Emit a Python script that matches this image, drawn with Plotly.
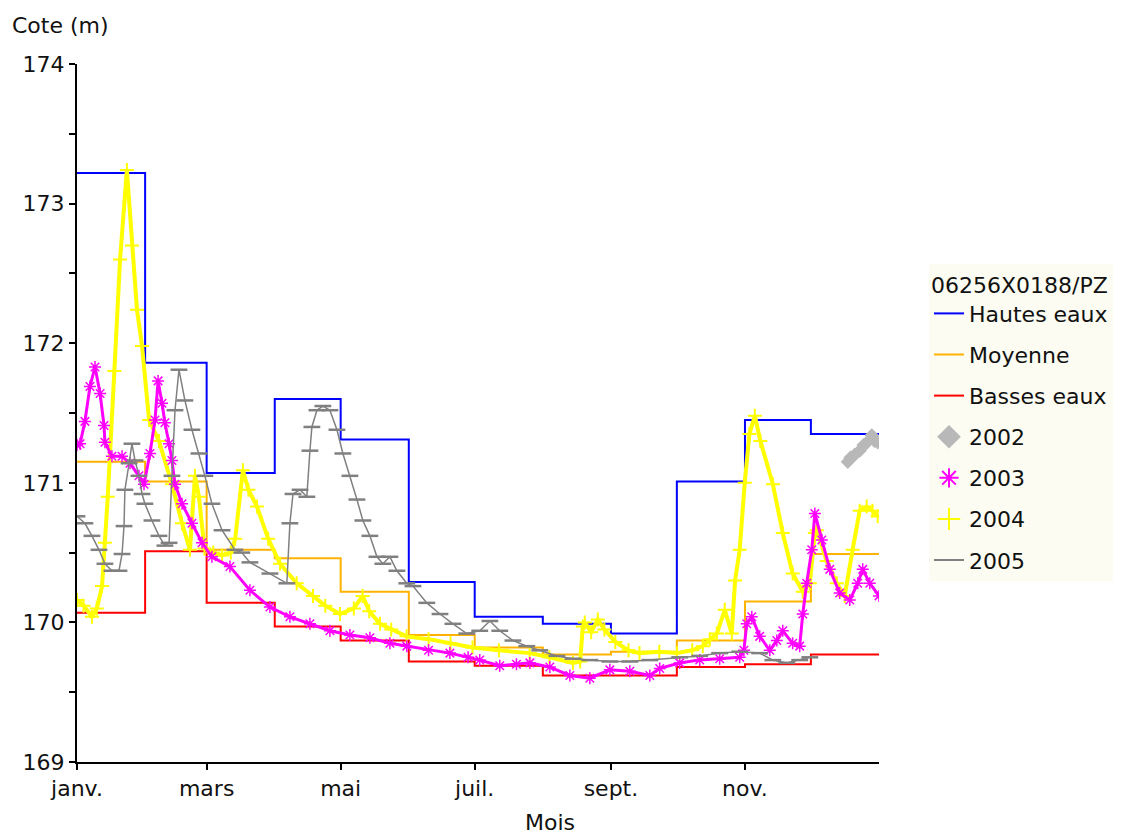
import plotly.graph_objects as go

# ---------------- data ----------------
MONTH_START_DAYS = [0, 31, 59, 90, 120, 151, 181, 212, 243, 273, 304, 334]
YEAR_END_DAY = 365
TICK_DAYS = [0, 59, 120, 181, 243, 304]
TICK_LABELS = ["janv.", "mars", "mai", "juil.", "sept.", "nov."]

HAUTES_EAUX = [173.22, 171.86, 171.07, 171.60, 171.31, 170.29, 170.04, 169.99, 169.92, 171.01, 171.45, 171.35]
MOYENNE = [171.15, 171.01, 170.52, 170.46, 170.22, 169.91, 169.82, 169.77, 169.79, 169.87, 170.15, 170.49]
BASSES_EAUX = [170.07, 170.51, 170.14, 169.97, 169.87, 169.72, 169.69, 169.62, 169.62, 169.68, 169.70, 169.77]

Y2002_DAYS = [350.8, 352.0, 353.9, 356.2, 358.0, 359.0, 361.7, 363.0, 364.4]
Y2002_VALUES = [171.15, 171.18, 171.20, 171.23, 171.27, 171.28, 171.34, 171.30, 171.29]

Y2003_DAYS = [0, 1.4, 3.6, 5.9, 8.2, 10.5, 12.3, 12.7, 15.9, 20.5, 24.1, 28.2, 30.5, 33.2, 35.5,
              36.9, 38.7, 40, 41.9, 43.2, 44.6, 47.8, 52.3, 56.9, 61.4, 69.6, 78.7, 87.8, 96.9,
              106, 115.1, 124.2, 133.3, 142.4, 150.1, 160, 169.7, 178, 183.3, 192.4, 200, 206.1,
              215.2, 224.3, 233.4, 242.5, 251.6, 260.7, 265.2, 274.3, 283.4, 292.5, 301.6, 303.5,
              304.8, 307.1, 310.7, 315.3, 318.5, 321.2, 325.7, 328.9, 330.3, 332.1, 334.4, 335.8,
              339, 342.6, 347.1, 351.7, 355.3, 357.6, 360.8, 365]
Y2003_VALUES = [171.27, 171.28, 171.44, 171.69, 171.83, 171.64, 171.41, 171.29, 171.19, 171.19,
                171.14, 171.05, 170.99, 171.21, 171.45, 171.73, 171.57, 171.43, 171.28, 171.16,
                170.99, 170.85, 170.71, 170.57, 170.47, 170.40, 170.23, 170.11, 170.04, 169.99,
                169.94, 169.91, 169.89, 169.85, 169.83, 169.80, 169.78, 169.75, 169.73, 169.69,
                169.70, 169.71, 169.68, 169.62, 169.60, 169.66, 169.65, 169.62, 169.67, 169.71,
                169.73, 169.74, 169.75, 169.80, 169.99, 170.04, 169.90, 169.80, 169.87, 169.94,
                169.85, 169.83, 170.06, 170.28, 170.52, 170.78, 170.59, 170.38, 170.21, 170.16,
                170.28, 170.38, 170.28, 170.19]

Y2004_DAYS = [0, 3, 6.8, 9, 11.4, 12.7, 14, 17, 19.6, 22.7, 25, 27.3, 29.6, 32.8, 37.3, 43.2,
              47.8, 51.4, 53.7, 55.5, 58, 62, 66, 70, 72, 75.5, 78, 81.9, 87, 92.4, 100, 107.4,
              113, 119.7, 126, 130, 133, 137.9, 143, 150, 160, 170, 180, 192, 206, 215, 225.7,
              229, 230.2, 231.1, 234, 237, 240, 245, 251, 256, 265, 273, 280, 284.8, 288, 291.2,
              294.8, 298, 299.5, 301.6, 303.9, 306, 308.5, 311, 316.7, 321.2, 325.7, 330.3,
              333.5, 335.8, 336.7, 341.2, 345.8, 349.4, 353, 356.2, 359.4, 362, 364.4]
Y2004_VALUES = [170.16, 170.12, 170.04, 170.10, 170.26, 170.57, 170.90, 171.80, 172.60, 173.24,
                172.70, 172.24, 171.98, 171.45, 171.30, 170.99, 170.71, 170.52, 171.05, 170.90,
                170.53, 170.50, 170.48, 170.50, 170.60, 171.09, 170.95, 170.83, 170.60, 170.42,
                170.28, 170.19, 170.12, 170.06, 170.10, 170.19, 170.08, 169.99, 169.95, 169.90,
                169.88, 169.85, 169.82, 169.80, 169.78, 169.75, 169.71, 169.72, 169.97, 170.00,
                169.93, 170.02, 169.95, 169.86, 169.80, 169.78, 169.79, 169.78, 169.80, 169.83,
                169.88, 169.92, 170.09, 169.92, 170.30, 170.52, 171.00, 171.35, 171.48, 171.30,
                170.99, 170.64, 170.35, 170.22, 170.28, 170.64, 170.66, 170.44, 170.28, 170.19,
                170.52, 170.80, 170.83, 170.80, 170.76]

Y2005_DAYS = [0, 3.6, 6.8, 10, 12.7, 15.9, 19.1, 20.5, 21.4, 21.8, 23.7, 25, 26.4, 28.2, 29.6,
              30.9, 34.1, 37.3, 40, 41.9, 43.2, 44.6, 46.4, 49.1, 52.3, 55.5, 58.2, 61.4, 66,
              71.9, 75, 78.7, 87.8, 95.5, 96.9, 98.3, 101.5, 104.6, 106, 106.9, 109.2, 111.9,
              115.1, 118.3, 121, 124.2, 127.4, 130.1, 133.3, 136.5, 139.2, 142.4, 145.6, 150.1,
              152.9, 159.2, 165.2, 171.1, 177.4, 183.3, 187.9, 192.4, 198.4, 204.7, 210.6, 218.4,
              225.7, 233.4, 242.5, 251.6, 260.7, 274.3, 283.4, 292.5, 301.6, 310.7, 316.7, 323,
              328.9, 333.5]
Y2005_VALUES = [170.76, 170.71, 170.62, 170.52, 170.42, 170.37, 170.37, 170.49, 170.69, 170.95,
                171.14, 171.28, 171.16, 171.05, 170.92, 170.85, 170.73, 170.62, 170.55, 170.57,
                171.05, 171.52, 171.81, 171.59, 171.38, 171.21, 171.05, 170.85, 170.66, 170.52,
                170.50, 170.43, 170.35, 170.28, 170.71, 170.92, 170.95, 170.90, 171.23, 171.40,
                171.52, 171.55, 171.52, 171.38, 171.21, 171.05, 170.88, 170.73, 170.62, 170.47,
                170.42, 170.47, 170.37, 170.28, 170.26, 170.14, 170.06, 169.99, 169.92, 169.94,
                170.01, 169.94, 169.87, 169.83, 169.80, 169.76, 169.74, 169.73, 169.72, 169.72,
                169.73, 169.75, 169.76, 169.78, 169.79, 169.78, 169.73, 169.71, 169.73, 169.75]

LEGEND_TITLE = "06256X0188/PZ"
FONT = "DejaVu Sans"
TEXT_COLOR = "#111111"

# page has an 8px body margin: figure is sized/placed to compensate
W, H = 1122, 830
ML, MT, MR, MB = 69, 56, 251, 76
PW, PH = W - ML - MR, H - MT - MB

# ---------------- figure ----------------
fig = go.Figure()

step_x = MONTH_START_DAYS + [YEAR_END_DAY]
for name, vals, color, rank in [("Hautes eaux", HAUTES_EAUX, "#0000FF", 1),
                                ("Moyenne", MOYENNE, "#FFB300", 2),
                                ("Basses eaux", BASSES_EAUX, "#FF0000", 3)]:
    fig.add_trace(go.Scatter(x=step_x, y=vals + [vals[-1]], mode="lines", name=name,
                             line=dict(color=color, width=2, shape="hv"),
                             legendgroup=name, legendrank=rank, hoverinfo="skip"))

# yearly series (legend shown by marker-only entries)
fig.add_trace(go.Scatter(x=Y2002_DAYS, y=Y2002_VALUES, mode="lines+markers", showlegend=False,
                         line=dict(color="#B8B8B8", width=5),
                         marker=dict(symbol="diamond", size=11, color="#B8B8B8")))
fig.add_trace(go.Scatter(x=Y2004_DAYS, y=Y2004_VALUES, mode="lines+markers", showlegend=False,
                         line=dict(color="#FFFF00", width=4),
                         marker=dict(symbol="cross-thin-open", size=10,
                                     line=dict(color="#FFFF00", width=2))))
fig.add_trace(go.Scatter(x=Y2003_DAYS, y=Y2003_VALUES, mode="lines+markers", showlegend=False,
                         line=dict(color="#FF00FF", width=3),
                         marker=dict(symbol="asterisk-open", size=10,
                                     line=dict(color="#FF00FF", width=1.5))))
fig.add_trace(go.Scatter(x=Y2005_DAYS, y=Y2005_VALUES, mode="lines+markers", showlegend=False,
                         line=dict(color="#808080", width=1.5),
                         marker=dict(symbol="line-ew-open", size=12,
                                     line=dict(color="#808080", width=2.5))))

# legend entries for the yearly series
for name, sym, color, rank in [("2002", "diamond", "#B8B8B8", 4),
                               ("2003", "asterisk-open", "#FF00FF", 5),
                               ("2004", "cross-thin-open", "#FFFF00", 6)]:
    fig.add_trace(go.Scatter(x=[None], y=[None], mode="markers", name=name, legendgroup=name,
                             legendrank=rank,
                             marker=dict(symbol=sym, size=16, color=color,
                                         line=dict(color=color, width=2))))
fig.add_trace(go.Scatter(x=[None], y=[None], mode="lines", name="2005", legendgroup="2005",
                         legendrank=7, line=dict(color="#808080", width=2)))

fig.update_layout(
    width=W, height=H,
    paper_bgcolor="white", plot_bgcolor="white",
    font=dict(family=FONT, size=22, color=TEXT_COLOR),
    margin=dict(l=ML, r=MR, t=MT, b=MB, autoexpand=False),
    showlegend=True,
    legend=dict(title=dict(text=LEGEND_TITLE, font=dict(size=22)),
                x=921 / W, xref="container", xanchor="left",
                y=1 - 256 / H, yref="container", yanchor="top",
                bgcolor="#FCFCF2", borderwidth=0,
                tracegroupgap=9.5, traceorder="grouped",
                font=dict(size=22), itemwidth=30),
    xaxis=dict(range=[0, YEAR_END_DAY], tickmode="array", tickvals=TICK_DAYS,
               ticktext=TICK_LABELS, showgrid=False, zeroline=False,
               showline=True, linecolor="black", linewidth=2,
               ticks="outside", ticklen=6, tickwidth=2, tickcolor="black",
               tickfont=dict(size=22)),
    yaxis=dict(range=[169, 174], tickmode="linear", tick0=169, dtick=1,
               showgrid=False, zeroline=False,
               showline=True, linecolor="black", linewidth=2,
               ticks="outside", ticklen=6, tickwidth=2, tickcolor="black",
               minor=dict(dtick=0.5, tick0=169, ticks="outside", ticklen=6,
                          tickwidth=2, tickcolor="black"),
               tickfont=dict(size=22)),
    annotations=[
        dict(text="Cote (m)", xref="paper", yref="paper", x=(2 - ML) / PW, y=1 + 38 / PH,
             xanchor="left", yanchor="middle", showarrow=False, font=dict(size=22)),
        dict(text="Mois", xref="paper", yref="paper", x=(542 - ML) / PW, y=-60 / PH,
             xanchor="center", yanchor="middle", showarrow=False, font=dict(size=22)),
    ],
)

fig.write_html("out.html")
